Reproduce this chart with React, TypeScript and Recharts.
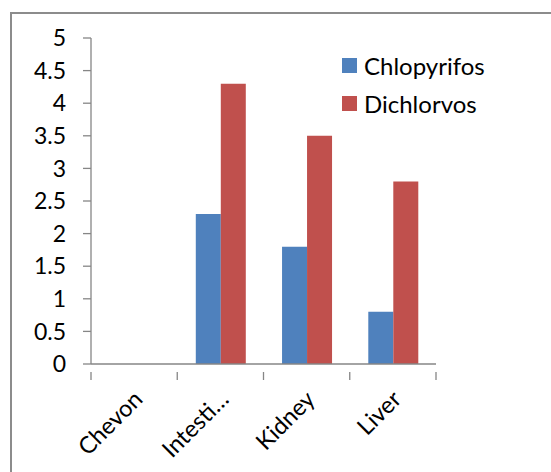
import { BarChart, Bar, XAxis, YAxis } from "recharts";

const categories = ["Chevon", "Intesti…", "Kidney", "Liver"];
const chlopyrifos = [0, 2.3, 1.8, 0.8];
const dichlorvos = [0, 4.3, 3.5, 2.8];
const yTicks = [0, 0.5, 1, 1.5, 2, 2.5, 3, 3.5, 4, 4.5, 5];

const seriesInfo = [
  { key: "chlopyrifos", name: "Chlopyrifos", color: "#4F81BD" },
  { key: "dichlorvos", name: "Dichlorvos", color: "#C0504D" },
];

const data = categories.map((name, i) => ({
  name,
  chlopyrifos: chlopyrifos[i],
  dichlorvos: dichlorvos[i],
}));

const FONT = "Lato, 'Open Sans', sans-serif";
const AXIS = "#868686";
const W = 551;
const H = 472;
const margin = { top: 38, right: 115, left: 0, bottom: 8 };
const yAxisWidth = 91;
const bandHalf = (W - margin.left - margin.right - yAxisWidth) / categories.length / 2;

const XTick = (props: any) => {
  const { x, y, payload, index } = props;
  const last = index === categories.length - 1;
  const tx = x + 4;
  const ty = y + 23;
  return (
    <g>
      <line x1={x - bandHalf} x2={x - bandHalf} y1={y} y2={y + 8} stroke={AXIS} strokeWidth={1.3} />
      {last && (
        <line x1={x + bandHalf} x2={x + bandHalf} y1={y} y2={y + 8} stroke={AXIS} strokeWidth={1.3} />
      )}
      <text
        x={tx}
        y={ty}
        dy="0.35em"
        textAnchor="end"
        transform={`rotate(-45, ${tx}, ${ty})`}
        fontSize={23.5}
        fontFamily={FONT}
        fill="#000"
      >
        {payload.value}
      </text>
    </g>
  );
};

export default function App() {
  return (
    <div style={{ position: "absolute", left: 0, top: 0, width: W, height: H, overflow: "hidden", background: "#fff" }}>
      <div
        style={{
          position: "absolute",
          left: 10,
          top: 12,
          width: 600,
          height: 500,
          borderTop: "2px solid #8c8c8c",
          borderLeft: "2px solid #8c8c8c",
          boxSizing: "border-box",
        }}
      />
      <div style={{ position: "absolute", left: 0, top: 0 }}>
        <BarChart width={W} height={H} data={data} margin={margin} barGap={0} barCategoryGap="21.5%">
          <XAxis
            dataKey="name"
            height={100}
            interval={0}
            tickLine={false}
            axisLine={{ stroke: AXIS, strokeWidth: 1.3 }}
            tick={<XTick />}
          />
          <YAxis
            width={yAxisWidth}
            domain={[0, 5]}
            ticks={yTicks}
            interval={0}
            tickSize={8}
            tickMargin={17}
            axisLine={{ stroke: AXIS, strokeWidth: 1.3 }}
            tickLine={{ stroke: AXIS, strokeWidth: 1.3 }}
            tick={{ fontSize: 23, fontFamily: FONT, fill: "#000" }}
          />
          {seriesInfo.map((s) => (
            <Bar key={s.key} dataKey={s.key} name={s.name} fill={s.color} isAnimationActive={false} />
          ))}
        </BarChart>
      </div>
      <div style={{ position: "absolute", left: 342, top: 46, fontFamily: FONT, fontSize: 24, color: "#000" }}>
        {seriesInfo.map((s) => (
          <div key={s.key} style={{ display: "flex", alignItems: "center", height: 38 }}>
            <span style={{ width: 15, height: 15, background: s.color, marginRight: 7 }} />
            <span>{s.name}</span>
          </div>
        ))}
      </div>
    </div>
  );
}
